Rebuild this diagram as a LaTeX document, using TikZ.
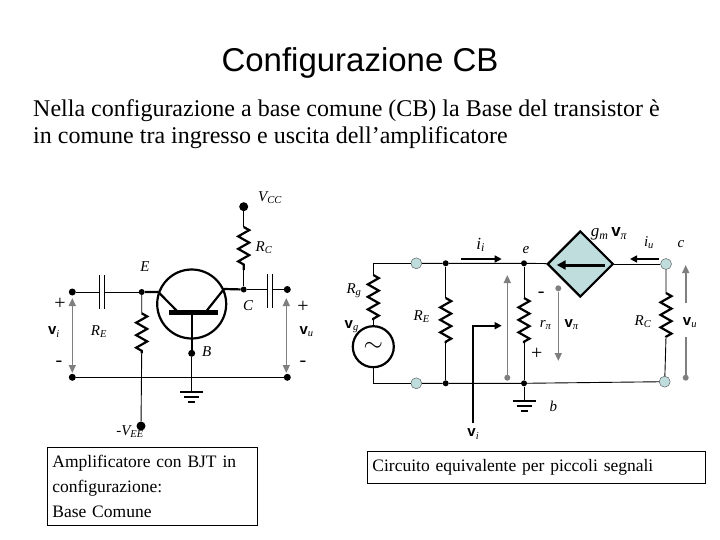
\documentclass[tikz,border=0pt]{standalone}
\usepackage{fontspec}
\setmainfont{Liberation Serif}
\newfontfamily\arialfont{Liberation Sans}
\usetikzlibrary{arrows.meta,decorations.pathmorphing,shapes.geometric}
\definecolor{paleblue}{HTML}{BFDDDD}
\definecolor{midgrey}{HTML}{7F7F7F}
\newcommand{\vlab}[2]{{\arialfont\bfseries #1\textsubscript{\normalfont\itshape #2}}}
\newcommand{\ilab}[2]{{\itshape #1\textsubscript{#2}}}
\tikzset{
    wire/.style={line width=0.9pt},
    fat/.style={line width=2.2pt},
    res/.style={line width=2.2pt,decorate,decoration={zigzag,amplitude=5.5pt,segment length=12.5pt}},
    dot/.style={circle,fill=black,inner sep=0pt,minimum size=6pt},
    bigdot/.style={circle,fill=black,inner sep=0pt,minimum size=9pt},
    port/.style={circle,draw=black!70,fill=paleblue,inner sep=0pt,minimum size=11pt},
    lab/.style={inner sep=0pt,font=\fontsize{15}{15}\selectfont},
    sign/.style={inner sep=0pt,font=\fontsize{20}{20}\selectfont},
    greyarrow/.style={draw=midgrey,line width=1.6pt,-{Triangle[length=8pt,width=7pt]}},
    blackarrow/.style={line width=1.6pt,-{Triangle[length=7pt,width=7pt]}},
    txtbox/.style={draw,line width=0.8pt,inner sep=0pt,align=left,font=\fontsize{17.5}{25}\selectfont},
    gnd/.pic={
        \draw[line width=1.5pt] (-11.5,0) -- (11.5,0);
        \draw[line width=1.5pt] (-7.5,5) -- (7.5,5);
        \draw[line width=1.8pt] (-3.5,10) -- (3.5,10);
    }
}
\begin{document}
\begin{tikzpicture}[x=1pt,y=-1pt]
    \useasboundingbox (0,0) rectangle (720,540);

    % testi
    \node[inner sep=0pt,font=\arialfont\fontsize{33}{33}\selectfont] at (360,63) (title) {Configurazione CB};
    \node[inner sep=0pt,anchor=north west,align=left,font=\fontsize{24}{27.5}\selectfont] at (33,99) (intro)
        {Nella configurazione a base comune (CB) la Base del transistor è\\in comune tra ingresso e uscita dell’amplificatore};

    % amplificatore
    \node[bigdot] at (243.7,206.7) (vcc) {};
    \coordinate (rcA) at (243.7,227);
    \coordinate (rcB) at (243.7,270);
    \node[dot] at (243.7,289.5) (c) {};
    \coordinate (capRa) at (267.3,289.5);
    \coordinate (capRb) at (272.3,289.5);
    \node[dot,minimum size=7pt] at (287.3,289.5) (out) {};
    \node[dot,minimum size=7pt] at (72.3,292) (in) {};
    \coordinate (capLa) at (99.3,292);
    \coordinate (capLb) at (104,292);
    \node[dot] at (141.7,292) (e) {};
    \coordinate (reA) at (141.7,313.3);
    \coordinate (reB) at (141.7,353.3);
    \node[bigdot] at (141,426) (vee) {};
    \node[draw,circle,line width=2.2pt,inner sep=0pt,minimum size=69pt] at (191.7,304) (bjt) {};
    \coordinate (barL) at (169,312.7);
    \coordinate (barR) at (217.7,312.7);
    \coordinate (barM) at (191.7,312.7);
    \coordinate (emA) at (158.3,292);
    \coordinate (emB) at (176.7,310.7);
    \coordinate (colA) at (206.7,310.7);
    \coordinate (colB) at (224,289);
    \node[dot,minimum size=7pt] at (191.7,353.3) (b) {};
    \coordinate (gndL) at (191.7,392);
    \node[dot,minimum size=7pt] at (72.3,377.3) (inlow) {};
    \node[dot,minimum size=7pt] at (287.3,377.3) (outlow) {};
    \coordinate (viA) at (72.3,298);
    \coordinate (viB) at (72.3,373);
    \coordinate (vuA) at (286.3,298);
    \coordinate (vuB) at (286.3,373);

    \draw[wire] (vcc) -- (rcA) (rcB) -- (c);
    \draw[res] (rcA) -- (rcB);
    \draw[wire] (c) -- (capRa) (capRb) -- (out);
    \draw[wire] (in) -- (capLa) (capLb) -- (e);
    \draw[wire] (capRa) ++(0,-16) -- ++(0,34);
    \draw[wire] (capRb) ++(0,-16) -- ++(0,34);
    \draw[wire] (capLa) ++(0,-17) -- ++(0,34);
    \draw[wire] (capLb) ++(0,-17) -- ++(0,34);
    \draw[wire] (e) -- (reA) (reB) -- (vee);
    \draw[res] (reA) -- (reB);
    \draw[fat] (e) -- (emA) -- (emB);
    \draw[fat] (colA) -- (colB) -- (c);
    \draw[line width=5pt] (barL) -- (barR);
    \draw[fat] (barM) -- (b);
    \draw[wire] (b) -- (gndL);
    \draw[wire] (inlow) -- (outlow);
    \pic at (gndL) {gnd};
    \draw[greyarrow,{Triangle[length=8pt,width=7pt]}-{Triangle[length=8pt,width=7pt]}] (viA) -- (viB);
    \draw[greyarrow,{Triangle[length=8pt,width=7pt]}-{Triangle[length=8pt,width=7pt]}] (vuA) -- (vuB);

    \node[lab] at (270,198) (lvcc) {\ilab{V}{CC}};
    \node[lab] at (264,247.7) (lrc) {\ilab{R}{C}};
    \node[lab] at (145,266.5) (le) {\itshape E};
    \node[lab] at (248,306) (lc) {\itshape C};
    \node[lab] at (206.7,351.5) (lb) {\itshape B};
    \node[lab] at (99,332) (lre) {\ilab{R}{E}};
    \node[lab] at (130,432) (lvee) {-\ilab{V}{EE}};
    \node[sign] at (60,304) (inp) {+};
    \node[sign] at (59,364) (inm) {-};
    \node[sign] at (303,306.5) (outp) {+};
    \node[sign] at (303,364) (outm) {-};
    \node[lab] at (54,332) (lvi) {\vlab{v}{i}};
    \node[lab] at (306.7,332) (lvu) {\vlab{v}{u}};

    % circuito equivalente
    \coordinate (rgA) at (373.3,275);
    \coordinate (rgB) at (373.3,320);
    \node[draw,circle,line width=2.2pt,inner sep=0pt,minimum size=41pt,font=\fontsize{38}{38}\selectfont] at (373.3,346.7) (src) {$\sim$};
    \node[port] at (416.3,263.3) (p1) {};
    \node[port] at (416.3,383.3) (p2) {};
    \node[dot] at (445.7,263.3) (n1) {};
    \node[dot] at (445.7,383.3) (n2) {};
    \coordinate (r1A) at (445.7,298);
    \coordinate (r1B) at (445.7,343);
    \node[dot] at (524,263.3) (n3) {};
    \node[dot] at (524,383.3) (n4) {};
    \coordinate (r2A) at (524,298);
    \coordinate (r2B) at (524,343);
    \coordinate (gndR) at (524,401);
    \node[diamond,aspect=1,draw,line width=2.2pt,fill=paleblue,inner sep=0pt,minimum size=66pt] at (580.3,264) (gen) {};
    \coordinate (genA) at (605,265);
    \coordinate (genB) at (556.7,265);
    \node[port] at (666,264) (p3) {};
    \node[port] at (664.7,381.7) (p4) {};
    \coordinate (r3A) at (666,293);
    \coordinate (r3B) at (666,337);

    \draw[wire] (p1) -| (rgA);
    \draw[res] (rgA) -- (rgB);
    \draw[wire] (rgB) -- (src);
    \draw[wire] (src) |- (p2);
    \draw[wire] (p1) -- (n1) -- (n3) -- (gen);
    \draw[wire] (p2) -- (n2) -- (n4) -- (p4);
    \draw[wire] (gen) -- (p3);
    \draw[wire] (n1) -- (r1A) (r1B) -- (n2);
    \draw[res] (r1A) -- (r1B);
    \draw[wire] (n3) -- (r2A) (r2B) -- (n4);
    \draw[res] (r2A) -- (r2B);
    \draw[wire] (p3) -- (r3A) (r3B) -- (p4);
    \draw[res] (r3A) -- (r3B);
    \draw[wire] (n4) -- (gndR);
    \pic at (gndR) {gnd};
    \draw[line width=3pt,-{Triangle[length=9pt,width=9pt]}] (genA) -- (genB);

    \coordinate (iiA) at (461,259);
    \coordinate (iiB) at (501.7,259);
    \coordinate (iuA) at (659,259);
    \coordinate (iuB) at (630,259);
    \coordinate (viC) at (472.7,423.3);
    \coordinate (viD) at (472.7,325.7);
    \coordinate (viE) at (501.7,325.7);
    \draw[blackarrow] (iiA) -- (iiB);
    \draw[blackarrow] (iuA) -- (iuB);
    \draw[blackarrow] (viC) -- (viD) -- (viE);

    \node[circle,fill=midgrey,inner sep=0pt,minimum size=6pt] at (507.3,377.7) (g1) {};
    \coordinate (g1t) at (507.3,275);
    \node[circle,fill=midgrey,inner sep=0pt,minimum size=6pt] at (558.3,288.3) (g2) {};
    \coordinate (g2t) at (558.3,361);
    \node[circle,fill=midgrey,inner sep=0pt,minimum size=6pt] at (685.7,377.7) (g3) {};
    \coordinate (g3m) at (685.7,336.7);
    \coordinate (g3n) at (685.7,303.3);
    \coordinate (g3t) at (685.7,265);
    \draw[greyarrow] (g1) -- (g1t);
    \draw[greyarrow] (g2) -- (g2t);
    \draw[draw=midgrey,line width=1.6pt] (g3) -- (g3m);
    \draw[greyarrow] (g3n) -- (g3t);

    \node[lab,font=\fontsize{17}{17}\selectfont] at (480.7,245) (lii) {\ilab{i}{i}};
    \node[lab] at (526,250) (le2) {\itshape e};
    \node[lab,font=\fontsize{17}{17}\selectfont] at (609,234) (lgm) {\ilab{g}{m}\,\vlab{v}{π}};
    \node[lab] at (649,243) (liu) {\ilab{i}{u}};
    \node[lab] at (681,244) (lc2) {\itshape c};
    \node[lab] at (354,290.7) (lrg) {\ilab{R}{g}};
    \node[lab] at (351.7,326.7) (lvg) {\vlab{v}{g}};
    \node[lab] at (421.7,316.7) (lre2) {\ilab{R}{E}};
    \node[sign] at (541.3,295) (pim) {-};
    \node[lab] at (545.7,325) (lrpi) {\ilab{r}{π}};
    \node[lab] at (571.7,325) (lvpi) {\vlab{v}{π}};
    \node[sign] at (536.7,354) (pip) {+};
    \node[lab] at (643,321.7) (lrc2) {\ilab{R}{C}};
    \node[lab] at (690,323) (lvu2) {\vlab{v}{u}};
    \node[lab] at (553.3,406.7) (lb2) {\itshape b};
    \node[lab] at (473.3,434) (lvi2) {\vlab{v}{i}};

    % riquadri
    \node[txtbox,anchor=north west,minimum width=209pt,minimum height=78pt,text width=200pt,inner xsep=5pt] at (47,447) (box1)
        {Amplificatore con BJT in\\configurazione:\\Base Comune};
    \node[txtbox,anchor=north west,minimum width=336pt,minimum height=32pt,text width=328pt,inner xsep=5pt] at (367,451) (box2)
        {Circuito equivalente per piccoli segnali};
\end{tikzpicture}
\end{document}
